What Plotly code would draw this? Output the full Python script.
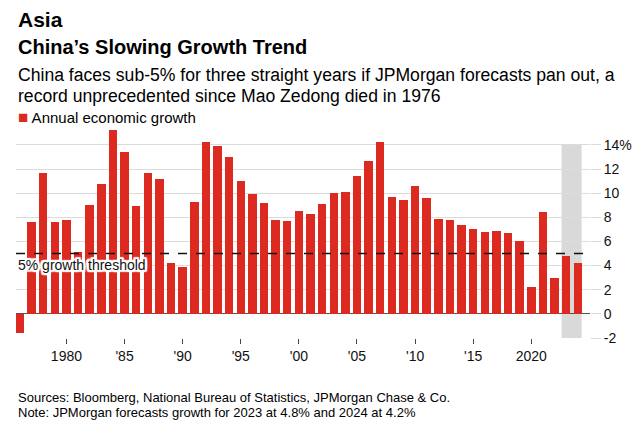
import plotly.graph_objects as go

years = list(range(1976, 2025))
growth = [-1.6, 7.6, 11.7, 7.6, 7.8, 5.1, 9.0, 10.8, 15.2, 13.4,
          8.9, 11.7, 11.2, 4.2, 3.9, 9.3, 14.2, 13.9, 13.0, 11.0,
          9.9, 9.2, 7.8, 7.7, 8.5, 8.3, 9.1, 10.0, 10.1, 11.4,
          12.7, 14.2, 9.7, 9.4, 10.6, 9.6, 7.9, 7.8, 7.4, 7.0,
          6.8, 6.9, 6.7, 6.0, 2.2, 8.4, 3.0, 4.8, 4.2]
x_tickvals = [1980, 1985, 1990, 1995, 2000, 2005, 2010, 2015, 2020]
x_ticktext = ["1980", "'85", "'90", "'95", "'00", "'05", "'10", "'15", "2020"]
y_tickvals = [-2, 0, 2, 4, 6, 8, 10, 12, 14]
y_ticktext = ["-2", "0", "2", "4", "6", "8", "10", "12", "14%"]
threshold = 5
forecast_span = [2022.6, 2024.33]

RED = "#dd2a20"
FONT = "Liberation Sans"

# The page body carries an 8px margin, so the figure is drawn 8px smaller
# and all margins are reduced by 8px to land where the reference has them.
PAGE_OFFSET = 8
W, H = 640 - PAGE_OFFSET, 429 - PAGE_OFFSET
PLOT_TOP, PLOT_BOTTOM = 128, 338   # screen pixels

fig = go.Figure()
fig.add_trace(go.Bar(x=years, y=growth, marker=dict(color=RED, line=dict(width=0)),
                     width=0.73, showlegend=False))

fig.add_shape(type="rect", xref="x", yref="y", x0=forecast_span[0], x1=forecast_span[1],
              y0=-2, y1=14, fillcolor="#d9d9d9", line=dict(width=0), layer="below")
fig.add_shape(type="line", xref="paper", yref="y", x0=0, x1=1, y0=threshold, y1=threshold,
              line=dict(color="#111", width=1.5, dash="dash"), layer="above")

halo = ", ".join(f"{dx}px {dy}px 1px #fff" for dx in (-2, -1, 0, 1, 2) for dy in (-2, -1, 0, 1, 2)
                 if (dx, dy) != (0, 0))
fig.add_annotation(xref="x", yref="y", x=1975.66, y=threshold, yshift=-1,
                   text="5% growth threshold", showarrow=False,
                   xanchor="left", yanchor="top",
                   font=dict(family=FONT, size=14, color="#111", shadow=halo))

annots = [
    ("<b>Asia</b>", 21, 19),
    ("<b>China’s Slowing Growth Trend</b>", 20, 47),
    ("China faces sub-5% for three straight years if JPMorgan forecasts pan out, a", 17.6, 75),
    ("record unprecedented since Mao Zedong died in 1976", 17.6, 96),
    ("<span style='color:%s;font-size:17px'>■</span> Annual economic growth" % RED, 15, 118),
    ("Sources: Bloomberg, National Bureau of Statistics, JPMorgan Chase & Co.", 13, 397),
    ("Note: JPMorgan forecasts growth for 2023 at 4.8% and 2024 at 4.2%", 13, 412),
]
for txt, sz, ypx in annots:
    fig.add_annotation(xref="paper", yref="paper", x=0,
                       y=1 - (ypx - PLOT_TOP) / (PLOT_BOTTOM - PLOT_TOP),
                       xanchor="left", yanchor="middle", text=txt, showarrow=False,
                       font=dict(family=FONT, size=sz, color="#000"))

fig.update_layout(
    width=W, height=H,
    margin=dict(l=16 - PAGE_OFFSET, r=50, t=PLOT_TOP - PAGE_OFFSET, b=H - (PLOT_BOTTOM - PAGE_OFFSET),
                autoexpand=False),
    plot_bgcolor="white", paper_bgcolor="white",
    bargap=0,
    xaxis=dict(range=[1975.66, 2025.05], tickvals=x_tickvals, ticktext=x_ticktext,
               ticks="outside", ticklen=5, tickcolor="#444", tickwidth=1,
               showgrid=False, zeroline=False, showline=False, automargin=False,
               tickfont=dict(family=FONT, size=14, color="#111")),
    yaxis=dict(range=[-2, 15.4], side="right", tickvals=y_tickvals, ticktext=y_ticktext,
               showgrid=True, gridcolor="#dcdcdc", gridwidth=1,
               zeroline=True, zerolinecolor="#555", zerolinewidth=1,
               ticks="outside", ticklen=10, tickcolor="#dcdcdc", ticklabelstandoff=0,
               showline=False, automargin=False,
               tickfont=dict(family=FONT, size=14, color="#111")),
)

fig.write_html("out.html")
